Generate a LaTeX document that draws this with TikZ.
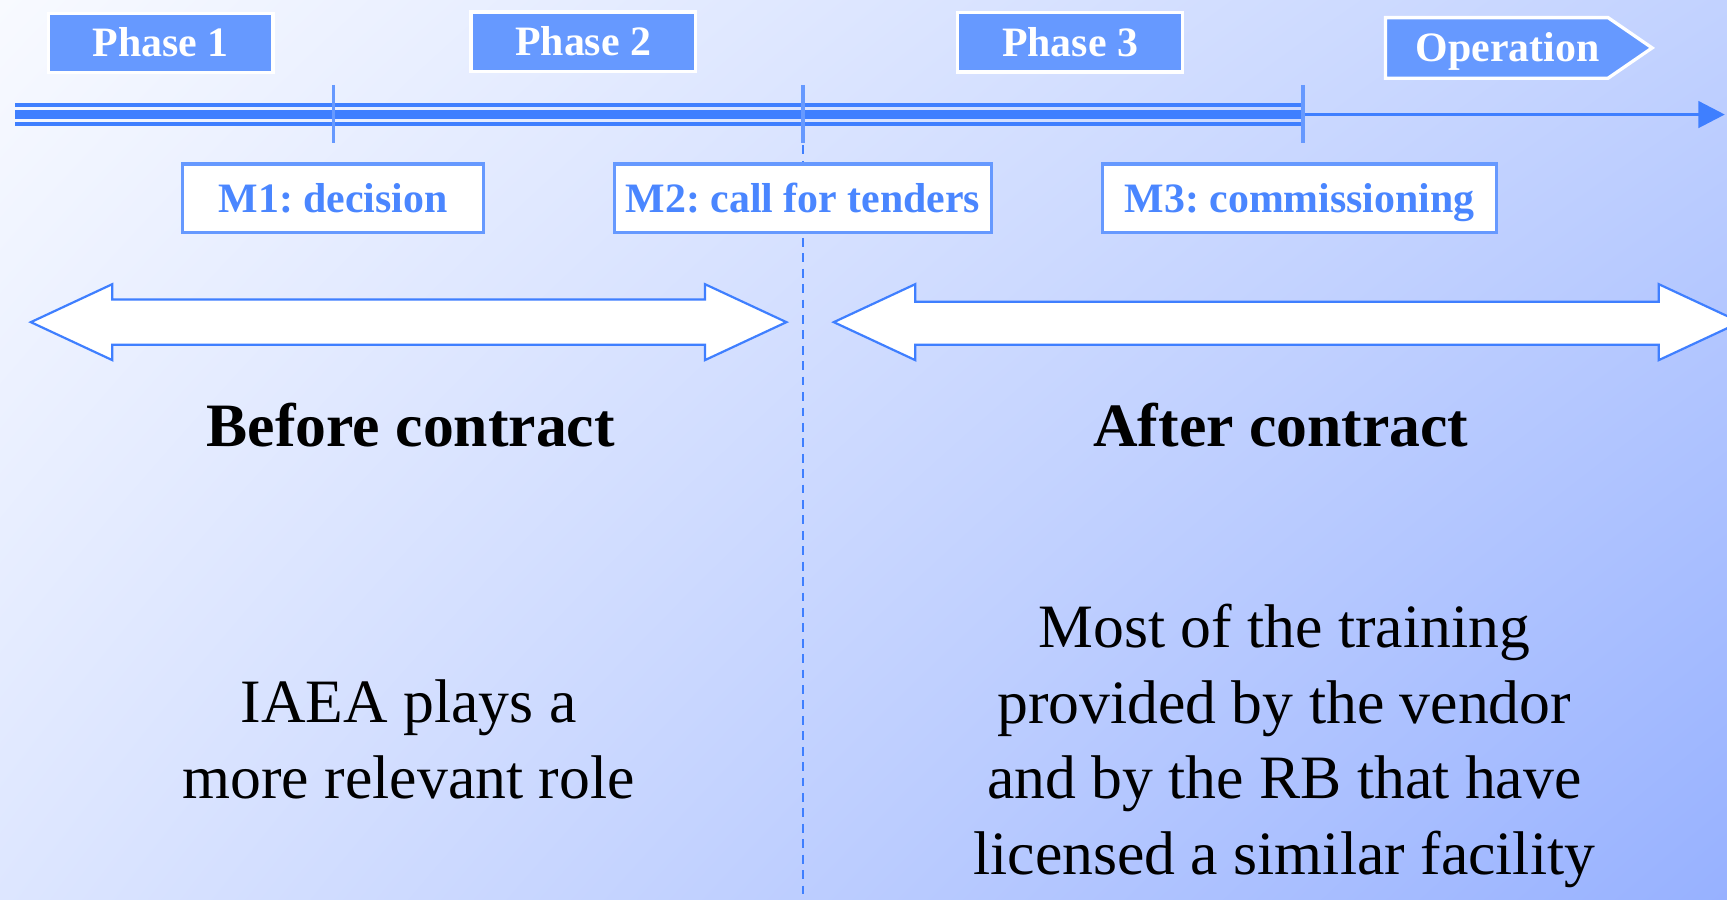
\documentclass[tikz,border=0pt]{standalone}
\usepackage{fontspec}
\setmainfont{Liberation Serif}
\usetikzlibrary{arrows.meta,shadings}
\definecolor{bgUL}{HTML}{F8FAFF}
\definecolor{bgUR}{HTML}{C2D2FF}
\definecolor{bgLL}{HTML}{DDE6FF}
\definecolor{bgLR}{HTML}{97B1FF}
\definecolor{boxblue}{HTML}{6699FF}
\definecolor{lineblue}{HTML}{3F7FFF}
\definecolor{textblue}{HTML}{4A86FF}
\frenchspacing
\tikzset{
  phasebox/.style={draw=white, line width=1.5pt, fill=boxblue, text=white,
    font=\fontsize{19}{22}\selectfont\bfseries, minimum width=102pt, minimum height=27pt, inner sep=0pt,
    text height=12.6pt, text depth=0pt},
  milebox/.style={draw=boxblue, line width=1.5pt, fill=white, text=textblue,
    font=\fontsize{19}{22}\selectfont\bfseries, minimum height=31pt, inner sep=0pt,
    text height=12.6pt, text depth=0pt},
  tickline/.style={draw=boxblue, line width=1.5pt},
  bigarrow/.style={draw=lineblue, line width=1pt, fill=white},
  heading/.style={font=\fontsize{28}{34}\selectfont\bfseries, text=black, anchor=base},
  bodytext/.style={font=\fontsize{28}{34.3}\selectfont, text=black, align=center, anchor=base},
}
\begin{document}
\begin{tikzpicture}[x=0.5pt,y=-0.5pt]
\useasboundingbox (0,0) rectangle (1568,817);
\clip (0,0) rectangle (1568,817);
\shade[upper left=bgUL, upper right=bgUR, lower left=bgLL, lower right=bgLR] (0,0) rectangle (1568,817);

% timeline coordinates
\coordinate (tl0) at (14,104);
\coordinate (t1) at (303,104);
\coordinate (t2) at (729,104);
\coordinate (t3) at (1183,104);
\coordinate (tend) at (1566,104);
\coordinate (dashend) at (729,817);

% dashed divider
\draw[lineblue, line width=0.9pt, dash pattern=on 4pt off 3pt] (t2) -- (dashend);

% triple line
\draw[lineblue, line width=1.6pt] ([yshift=4.3pt]tl0) -- ([yshift=4.3pt]t3);
\draw[lineblue, line width=3.8pt] (tl0) -- (t3);
\draw[lineblue, line width=1.6pt] ([yshift=-4.3pt]tl0) -- ([yshift=-4.3pt]t3);
% single arrow line
\draw[lineblue, line width=1.5pt, -{Triangle[length=12pt,width=12pt]}] (t3) -- (tend);

% ticks
\foreach \t in {t1,t2,t3}{
  \draw[tickline] ([yshift=13.5pt]\t) -- ([yshift=-13pt]\t);
}

% phase boxes
\node[phasebox] (p1) at (146,39) {Phase 1};
\node[phasebox] (p2) at (529.5,38) {Phase 2};
\node[phasebox] (p3) at (971.5,38.5) {Phase 3};

% operation
\path[draw=white, line width=1.5pt, fill=boxblue]
  (1258,16) -- (1460,16) -- (1500,43.5) -- (1460,71) -- (1258,71) -- cycle;
\node[text=white, font=\fontsize{19}{22}\selectfont\bfseries, inner sep=0pt,
  text height=12.6pt, text depth=0pt] (op) at (1369,43.5) {Operation};

% milestones
\node[milebox, minimum width=136.5pt] (m1) at (302.5,180) {M1: decision};
\node[milebox, minimum width=171pt] (m2) at (729,180) {M2: call for tenders};
\node[milebox, minimum width=179pt] (m3) at (1180,180) {M3: commissioning};

% double arrows
\path[bigarrow] (28,292.5) -- (102,258) -- (102,272) -- (640,272) -- (640,258) -- (714,292.5)
  -- (640,327) -- (640,313) -- (102,313) -- (102,327) -- cycle;
\path[bigarrow] (757,292.5) -- (831,258) -- (831,274) -- (1506,274) -- (1506,258) -- (1580,292.5)
  -- (1506,327) -- (1506,313) -- (831,313) -- (831,327) -- cycle;

% headings
\node[heading] (before) at (373,405) {Before contract};
\node[heading] (after) at (1163,405) {After contract};

% body texts (base anchor = last line's baseline)
\node[bodytext] (left) at (371,725) {IAEA plays a\\more relevant role};
\node[bodytext] (right) at (1166,794) {Most of the training\\provided by the vendor\\and by the RB that have\\licensed a similar facility};
\end{tikzpicture}
\end{document}
